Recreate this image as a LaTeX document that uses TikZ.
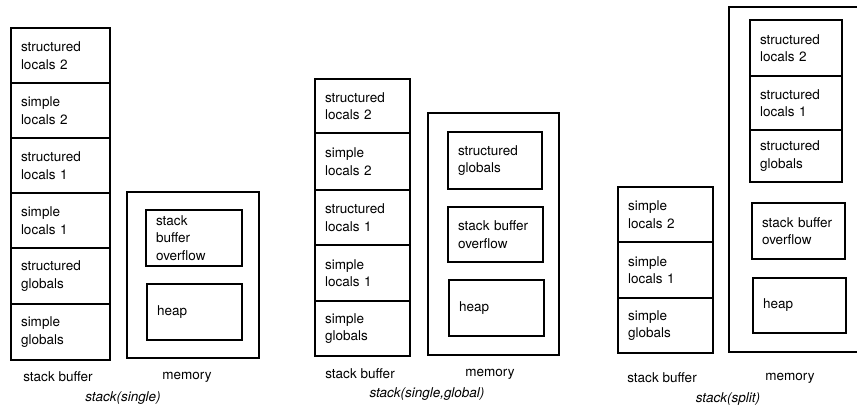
\documentclass[tikz,border=0pt]{standalone}
\usepackage{fontspec}
\setmainfont{TeX Gyre Heros}
\begin{document}
\begin{tikzpicture}[x=1pt,y=-1pt,
  cell/.style={draw,line width=1.5pt,inner xsep=10pt,inner ysep=0pt,align=left,
    font=\fontsize{13.5}{17.5}\selectfont},
  lbl/.style={font=\fontsize{13.5}{15}\selectfont},
  ttl/.style={font=\fontsize{13.5}{15}\selectfont\itshape},
  frame/.style={draw,line width=1.5pt}]
\useasboundingbox (0,0) rectangle (857,408);
% ---------- panel 1 : stack(single)
\foreach \n/\ya/\yb/\t in {a1/28/83/{structured\\locals 2},a2/83/138/{simple\\locals 2},a3/138/193/{structured\\locals 1},a4/193/248/{simple\\locals 1},a5/248/304/{structured\\globals},a6/304/360/{simple\\globals}}{
  \node[cell,text width=79pt,minimum height={\yb-\ya}] (\n) at (60.5,{(\ya+\yb)/2}) {\t};
}
\node[frame,minimum width=132pt,minimum height=166pt,inner sep=0pt] (m1) at (193,275) {};
\node[cell,text width=76pt,minimum height=56pt] (m1a) at (194,238) {stack\\buffer\\overflow};
\node[cell,text width=75pt,minimum height=56pt] (m1b) at (194.5,312) {heap};
\node[lbl] (l1a) at (58,377) {stack buffer};
\node[lbl] (l1b) at (187,377) {memory};
\node[ttl] (t1) at (123,398) {stack(single)};
% ---------- panel 2 : stack(single,global)
\foreach \n/\ya/\yb/\t in {b1/79/133/{structured\\locals 2},b2/133/190/{simple\\locals 2},b3/190/245/{structured\\locals 1},b4/245/301/{simple\\locals 1},b5/301/356/{simple\\globals}}{
  \node[cell,text width=75pt,minimum height={\yb-\ya}] (\n) at (362.5,{(\ya+\yb)/2}) {\t};
}
\node[frame,minimum width=131pt,minimum height=242pt,inner sep=0pt] (m2) at (493.5,234) {};
\node[cell,text width=74pt,minimum height=57pt] (m2a) at (495,160.5) {structured\\globals};
\node[cell,text width=75pt,minimum height=55pt] (m2b) at (495.5,234.5) {stack buffer\\overflow};
\node[cell,text width=75pt,minimum height=56pt] (m2c) at (496.5,308) {heap};
\node[lbl] (l2a) at (360,374) {stack buffer};
\node[lbl] (l2b) at (490,374) {memory};
\node[ttl] (t2) at (427,394) {stack(single,global)};
% ---------- panel 3 : stack(split)
\foreach \n/\ya/\yb/\t in {c1/187/242/{simple\\locals 2},c2/242/298/{simple\\locals 1},c3/298/353/{simple\\globals}}{
  \node[cell,text width=75pt,minimum height={\yb-\ya}] (\n) at (665.5,{(\ya+\yb)/2}) {\t};
}
\coordinate (m3tr) at (857,7);
\coordinate (m3tl) at (729,7);
\coordinate (m3bl) at (729,352);
\coordinate (m3br) at (857,352);
\draw[frame] (m3tr) -- (m3tl) -- (m3bl) -- (m3br);
\node[cell,text width=72pt,minimum height=56pt] (m3a) at (796,48) {structured\\locals 2};
\node[cell,text width=72pt,minimum height=54pt] (m3b) at (796,103) {structured\\locals 1};
\node[cell,text width=72pt,minimum height=52pt] (m3c) at (796,156) {structured\\globals};
\node[cell,text width=73pt,minimum height=56pt] (m3d) at (798.5,231) {stack buffer\\overflow};
\node[cell,text width=73pt,minimum height=55pt] (m3e) at (799.5,305.5) {heap};
\node[lbl] (l3a) at (662,378) {stack buffer};
\node[lbl] (l3b) at (790,378) {memory};
\node[ttl] (t3) at (728,399) {stack(split)};
\end{tikzpicture}
\end{document}
